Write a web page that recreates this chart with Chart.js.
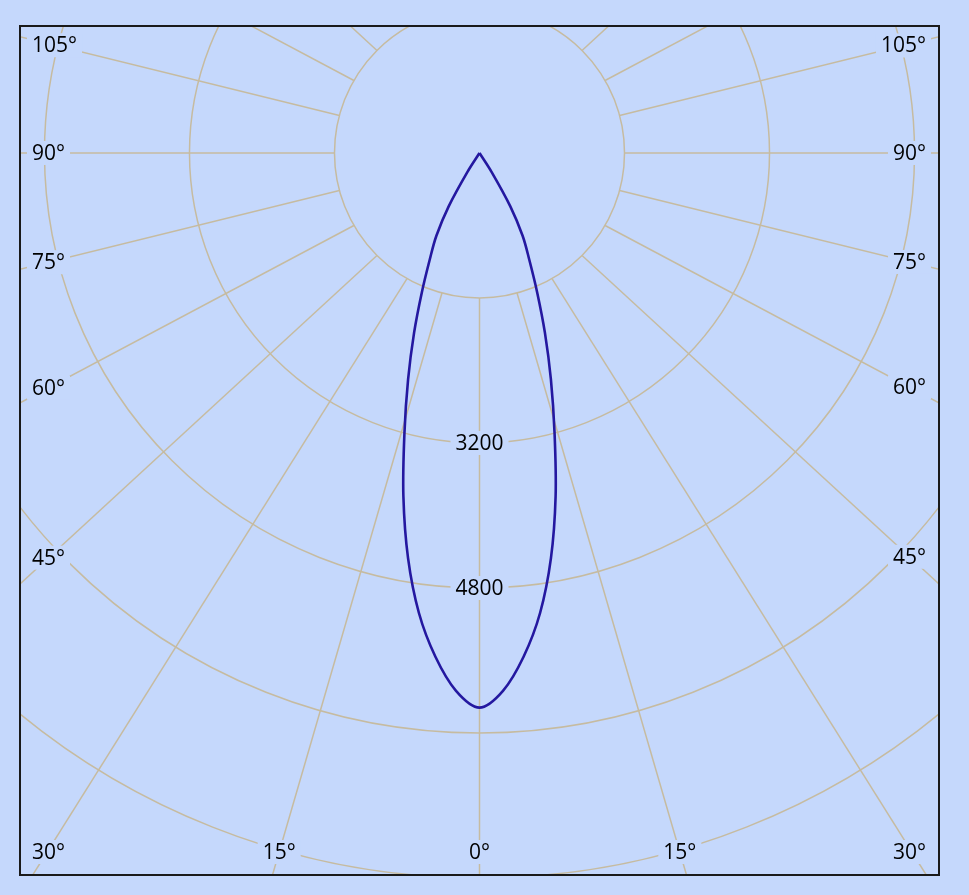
<!DOCTYPE html>
<html>
<head>
<meta charset="utf-8">
<script src="https://cdn.jsdelivr.net/npm/chart.js@4"></script>
<style>
  html, body { margin: 0; padding: 0; background: #c5d8fc; }
  canvas { display: block; }
</style>
</head>
<body>
<canvas id="polarChart" width="969" height="895"></canvas>
<script>
// luminous intensity (cd) per gamma angle, same on both halves of the plane
const gammaAngles = [0, 2.5, 5, 7.5, 10, 12.5, 15, 17.5, 20, 22.5, 25, 27.5, 30, 32.5, 35, 90];
const intensity = [6120, 5940, 5580, 5120, 4540, 3880, 3200, 2620, 2110, 1660, 1300, 1030, 680, 250, 0, 0];

const ringValues = [1600, 3200, 4800, 6400, 8000, 9600];
const ringLabels = [3200, 4800];
const angleLines = [0, 15, 30, 45, 60, 75, 90, 105, 120, 135, 150, 165];
const angleLabels = [0, 15, 30, 45, 60, 75, 90, 105];

const bg = '#c5d8fc';
const gridColor = 'rgb(198,187,160)';
const font = '21px "Open Sans", sans-serif';

// polar -> cartesian, 0° points down
const curve = [];
for (let i = gammaAngles.length - 1; i >= 0; i--) {
  const a = gammaAngles[i] * Math.PI / 180;
  curve.push({x: -intensity[i] * Math.sin(a), y: -intensity[i] * Math.cos(a)});
}
for (let i = 1; i < gammaAngles.length; i++) {
  const a = gammaAngles[i] * Math.PI / 180;
  curve.push({x: intensity[i] * Math.sin(a), y: -intensity[i] * Math.cos(a)});
}

function labelBox(ctx, text, x, y) {
  const w = ctx.measureText(text).width;
  ctx.fillStyle = bg;
  ctx.fillRect(x - w / 2 - 5, y - 12, w + 10, 24);
  ctx.fillStyle = '#000';
  ctx.fillText(text, x, y + 1);
}

const polarGrid = {
  id: 'polarGrid',
  beforeDatasetsDraw(chart) {
    const {ctx, chartArea: ca, scales: {x, y}} = chart;
    const cx = x.getPixelForValue(0), cy = y.getPixelForValue(0);
    const px = v => x.getPixelForValue(v) - cx;
    const r0 = px(ringValues[0]);
    const squash = 0.92;

    ctx.save();
    ctx.beginPath();
    ctx.rect(ca.left, ca.top, ca.right - ca.left, ca.bottom - ca.top);
    ctx.clip();
    ctx.strokeStyle = gridColor;
    ctx.lineWidth = 1.5;

    ringValues.forEach(v => {
      ctx.beginPath();
      ctx.arc(cx, cy, px(v), 0, Math.PI * 2);
      ctx.stroke();
    });

    const lineStart = (a, s) => [cx + s * r0 * Math.sin(a), cy + r0 * Math.cos(a)];
    const lineDir = (a, s) => [s * Math.sin(a), squash * Math.cos(a)];

    angleLines.forEach(deg => {
      const a = deg * Math.PI / 180;
      [-1, 1].forEach(s => {
        if (deg === 0 && s === 1) return;
        const [x0, y0] = lineStart(a, s);
        const [dx, dy] = lineDir(a, s);
        ctx.beginPath();
        ctx.moveTo(x0, y0);
        ctx.lineTo(x0 + dx * 2000, y0 + dy * 2000);
        ctx.stroke();
      });
    });

    ctx.font = font;
    ctx.textBaseline = 'middle';
    ctx.textAlign = 'center';

    // ring values along the 0° line
    ringLabels.forEach(v => labelBox(ctx, String(v), cx, cy + px(v)));

    // angle labels where the lines reach an inset frame
    const leftX = ca.left + 12, rightX = ca.right - 13, bottomY = ca.bottom - 23;
    angleLabels.forEach(deg => {
      const a = deg * Math.PI / 180;
      const text = deg + '°';
      const w = ctx.measureText(text).width;
      [-1, 1].forEach(s => {
        if (deg === 0 && s === 1) return;
        const [x0, y0] = lineStart(a, s);
        const [dx, dy] = lineDir(a, s);
        let lx, ly;
        if (deg === 0) {
          lx = x0; ly = bottomY;
        } else {
          lx = s < 0 ? leftX + w / 2 : rightX - w / 2;
          ly = y0 + (lx - x0) / dx * dy;
          if (ly > bottomY - 20) {
            ly = bottomY;
            lx = x0 + (bottomY - y0) / dy * dx;
            lx = Math.max(leftX + w / 2, Math.min(rightX - w / 2, lx));
          }
        }
        labelBox(ctx, text, lx, ly);
      });
    });
    ctx.restore();
  },
  afterDraw(chart) {
    const {ctx, chartArea: ca} = chart;
    ctx.save();
    ctx.strokeStyle = '#1a1a1a';
    ctx.lineWidth = 2;
    ctx.strokeRect(ca.left, ca.top, ca.right - ca.left, ca.bottom - ca.top);
    ctx.restore();
  }
};

const ctx = document.getElementById('polarChart');

new Chart(ctx, {
  type: 'scatter',
  data: {
    datasets: [{
      label: 'C0 - C180',
      data: curve,
      showLine: true,
      borderColor: '#2418a0',
      borderWidth: 2.6,
      pointRadius: 0,
      tension: 0.35
    }]
  },
  options: {
    responsive: false,
    animation: false,
    layout: { padding: { left: 20, top: 26, right: 30, bottom: 20 } },
    plugins: { legend: { display: false }, tooltip: { enabled: false } },
    scales: {
      x: { display: false, min: -5070, max: 5070 },
      y: { display: false, min: -7967, max: 1401 }
    }
  },
  plugins: [polarGrid]
});
</script>
</body>
</html>
